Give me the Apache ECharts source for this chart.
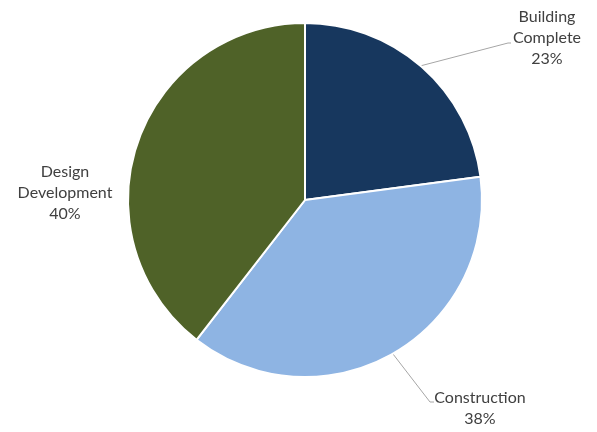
<!DOCTYPE html>
<html><head><meta charset="utf-8">
<script src="https://cdn.jsdelivr.net/npm/echarts@6/dist/echarts.min.js"></script>
<style>html,body{margin:0;padding:0;background:#fff}#c{width:597px;height:432px}</style>
</head><body><div id="c"></div>
<script>
const categories = ['Building\nComplete', 'Construction', 'Design\nDevelopment'];
const values = [22.9, 37.6, 39.5];
const colors = ['#17375E', '#8EB4E3', '#4F6228'];
const total = values.reduce((a, b) => a + b, 0);

const chart = echarts.init(document.getElementById('c'));
const labelPos = [
  { x: 547, y: 38, line: [[420, 66], [508, 43], [511, 43]] },
  { x: 480, y: 408, line: [[393, 354], [430, 402], [434, 402]] },
  { x: 65, y: 193, line: null }
];
chart.setOption({
  animation: false,
  series: [{
    type: 'pie',
    center: [305, 200],
    radius: 177,
    startAngle: 90,
    clockwise: true,
    data: categories.map((n, i) => ({
      name: n, value: values[i],
      itemStyle: { color: colors[i] },
      labelLine: { show: i !== 2 }
    })),
    itemStyle: { borderColor: '#fff', borderWidth: 2 },
    label: {
      show: true,
      formatter: p => p.name + '\n' + Math.round(p.value / total * 100) + '%',
      fontFamily: 'Lato, "Open Sans", sans-serif',
      fontSize: 16,
      lineHeight: 21,
      color: '#404040',
      align: 'center',
      overflow: 'none',
      width: 200
    },
    labelLine: { show: true, lineStyle: { color: '#a6a6a6', width: 1 } },
    labelLayout: function (params) {
      const p = labelPos[params.dataIndex];
      const r = { x: p.x, y: p.y, align: 'center', verticalAlign: 'middle' };
      if (p.line) r.labelLinePoints = p.line;
      return r;
    }
  }]
});
</script></body></html>
